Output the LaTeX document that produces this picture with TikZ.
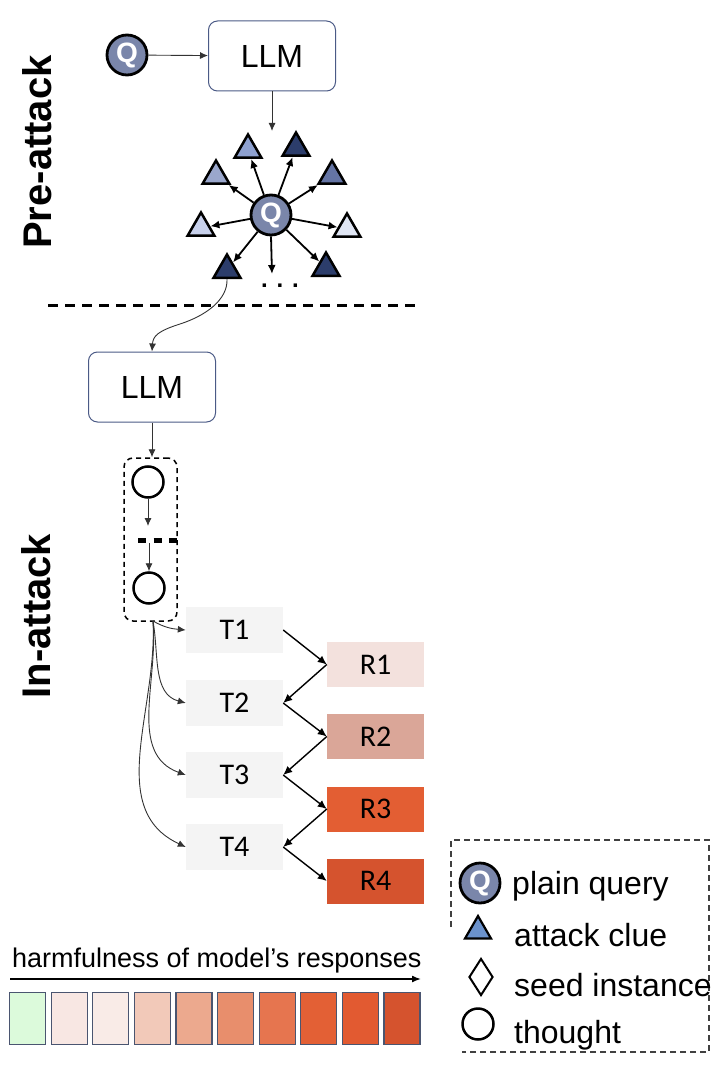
\documentclass[tikz,border=0pt]{standalone}
\usepackage{fontspec}
\setmainfont{Liberation Sans}
\newfontfamily\calib{Carlito}
\usetikzlibrary{arrows.meta,shapes.geometric}
\definecolor{qfill}{HTML}{7A86AA}
\definecolor{llmborder}{HTML}{4B5A86}
\definecolor{tgray}{HTML}{F4F4F4}
\definecolor{cborder}{HTML}{4A5570}
\definecolor{triA}{HTML}{8EA1D0}
\definecolor{triB}{HTML}{2C3D6B}
\definecolor{triC}{HTML}{9AA7CC}
\definecolor{triD}{HTML}{6474A4}
\definecolor{triE}{HTML}{C8D1EC}
\definecolor{triF}{HTML}{E0E6F4}
\definecolor{legtri}{HTML}{6B92CC}
\definecolor{rA}{HTML}{F3E1DD}
\definecolor{rB}{HTML}{DAA698}
\definecolor{rC}{HTML}{E35E33}
\definecolor{rD}{HTML}{D5532E}
\definecolor{cA}{HTML}{DCFADB}
\definecolor{cB}{HTML}{F8E7E3}
\definecolor{cC}{HTML}{F9EBE7}
\definecolor{cD}{HTML}{F2C9B9}
\definecolor{cE}{HTML}{ECA98E}
\definecolor{cF}{HTML}{E88E6C}
\definecolor{cG}{HTML}{E6754F}
\definecolor{cH}{HTML}{E36035}
\definecolor{cI}{HTML}{E25A31}
\definecolor{cJ}{HTML}{D5532E}
\begin{document}
\begin{tikzpicture}[x=1pt,y=-1pt,
  qnode/.style={circle, draw=black, line width=2.8pt, fill=qfill, minimum size=40pt, inner sep=0pt, text=white, font=\fontsize{28}{28}\selectfont\bfseries},
  llm/.style={draw=llmborder, rounded corners=9pt, line width=1pt, minimum width=127pt, minimum height=70pt, inner sep=0pt, font=\fontsize{32}{32}\selectfont},
  tri/.style={regular polygon, regular polygon sides=3, draw=black, line width=2.5pt, minimum size=31pt, inner sep=0pt},
  thinarrow/.style={-{Latex[length=8pt,width=7pt]}, line width=0.9pt, draw=black!80},
  staredge/.style={-{Latex[length=9pt,width=8pt]}, line width=1.8pt},
  thought/.style={circle, draw=black, line width=2.5pt, minimum size=31pt, inner sep=0pt},
  tnode/.style={fill=tgray, minimum width=97pt, minimum height=46pt, inner sep=0pt, font=\calib\fontsize{30}{30}\selectfont},
  rnode/.style={minimum width=97pt, minimum height=45pt, inner sep=0pt, font=\calib\fontsize{30}{30}\selectfont},
  zz/.style={-{Latex[length=9pt,width=8pt]}, line width=1.4pt},
  cbox/.style={draw=cborder, line width=1.2pt, minimum width=36pt, minimum height=52pt, inner sep=0pt},
  legtext/.style={anchor=base west, font=\fontsize{32}{32}\selectfont, inner sep=0pt},
  phase/.style={rotate=90, font=\bfseries\fontsize{40}{40}\selectfont, inner sep=0pt}
]
\useasboundingbox (0,0) rectangle (720,1067);

% phase labels
\node[phase] (pre) at (37,152) {Pre-attack};
\node[phase] (in) at (36,616) {In-attack};

% pre-attack
\node[qnode] (q1) at (127,55) {Q};
\node[llm] (llm1) at (272,56) {LLM};
\draw[thinarrow] (q1) -- (llm1);
\coordinate (star top) at (272,131);
\draw[thinarrow] (llm1.south) -- (star top);

\node[qnode] (qs) at (271,215) {Q};
\node[tri, fill=triA] (tA) at (248,150) {};
\node[tri, fill=triB] (tB) at (296,148) {};
\node[tri, fill=triC] (tC) at (216,176) {};
\node[tri, fill=triD] (tD) at (332,176) {};
\node[tri, fill=triE] (tE) at (201,228) {};
\node[tri, fill=triF] (tF) at (347,229) {};
\node[tri, fill=triB] (tG) at (227,270) {};
\node[tri, fill=triB] (tH) at (326,268) {};
\coordinate (down) at (272,274);
\foreach \t in {tA,tB,tC,tD,tE,tF,tG,tH} \draw[staredge] (qs) -- (\t);
\draw[staredge] (qs.south) -- (down);
\node[font=\bfseries\fontsize{24}{24}\selectfont, inner sep=0pt] (dots) at (280,286) {. . .};

% separator
\coordinate (sepL) at (48,305);
\coordinate (sepR) at (420,305);
\draw[line width=3pt, dash pattern=on 10pt off 7pt] (sepL) -- (sepR);

% in-attack
\node[llm] (llm2) at (152,387) {LLM};
\draw[line width=0.9pt, black!80, -{Latex[length=8pt,width=7pt]}] (tG.south) .. controls (228,300) and (205,316) .. (180,324) .. controls (158,331) and (153,336) .. (llm2.north);

\node[draw=black, dashed, dash pattern=on 5pt off 4pt, line width=1.5pt, rounded corners=9pt, minimum width=53pt, minimum height=163pt, inner sep=0pt] (tbox) at (150.5,539.5) {};
\draw[thinarrow] (llm2.south) -- (llm2.south |- tbox.north);
\node[thought] (th1) at (148,482) {};
\node[thought] (th2) at (149,588) {};
\coordinate (a1) at (148,526);
\coordinate (a2) at (149,543);
\draw[thinarrow] (th1.south) -- (a1);
\draw[thinarrow] (a2) -- (th2.north);
\coordinate (dL) at (138,540.5);
\coordinate (dR) at (178,540.5);
\draw[line width=5pt, dash pattern=on 8pt off 7.5pt] (dL) -- (dR);

% T and R nodes
\node[tnode] (T1) at (234.5,630) {T1};
\node[tnode] (T2) at (234.5,703) {T2};
\node[tnode] (T3) at (234.5,775) {T3};
\node[tnode] (T4) at (234.5,847) {T4};
\node[rnode, fill=rA] (R1) at (375.5,664.5) {R1};
\node[rnode, fill=rB] (R2) at (375.5,736.5) {R2};
\node[rnode, fill=rC] (R3) at (375.5,809) {R3};
\node[rnode, fill=rD] (R4) at (375.5,881) {R4};

\coordinate (bx) at (153,621);
\draw[thinarrow] (bx) to[out=-30, in=175] (T1.west);
\draw[thinarrow] (bx) to[out=-80, in=165] (T2.west);
\draw[thinarrow] (bx) to[out=-85, in=160] (T3.west);
\draw[thinarrow] (bx) to[out=-87, in=155] (T4.west);

\draw[zz] (T1.east) -- (R1.west);
\draw[zz] (R1.west) -- (T2.east);
\draw[zz] (T2.east) -- (R2.west);
\draw[zz] (R2.west) -- (T3.east);
\draw[zz] (T3.east) -- (R3.west);
\draw[zz] (R3.west) -- (T4.east);
\draw[zz] (T4.east) -- (R4.west);

% legend
\draw[black!75, line width=1.2pt, dash pattern=on 6pt off 4pt] (451,927) -- (451,840) -- (709,840) -- (709,1052) -- (462,1052);
\node[qnode] (lq) at (480,883) {Q};
\node[legtext] (lqt) at (512,894) {plain query};
\node[tri, fill=legtri, line width=2.2pt, minimum size=30pt] (lt) at (478,931) {};
\node[legtext] (ltt) at (514,946) {attack clue};
\node[diamond, draw=black, line width=2pt, minimum width=24pt, minimum height=37pt, inner sep=0pt] (ld) at (481,977) {};
\node[legtext] (ldt) at (514,996) {seed instance};
\node[thought] (lc) at (478,1024) {};
\node[legtext] (lct) at (514,1043) {thought};

% colour bar
\node[anchor=base west, font=\fontsize{27}{27}\selectfont, inner sep=0pt] (harm) at (12,967) {harmfulness of model’s responses};
\coordinate (hL) at (10,979);
\coordinate (hR) at (421,979);
\draw[-{Latex[length=9pt,width=7pt]}, line width=1.5pt] (hL) -- (hR);
\foreach \c [count=\i from 0] in {cA,cB,cC,cD,cE,cF,cG,cH,cI,cJ}
  \node[cbox, fill=\c] (cb\i) at (27.5+41.6*\i,1018.5) {};
\end{tikzpicture}
\end{document}
